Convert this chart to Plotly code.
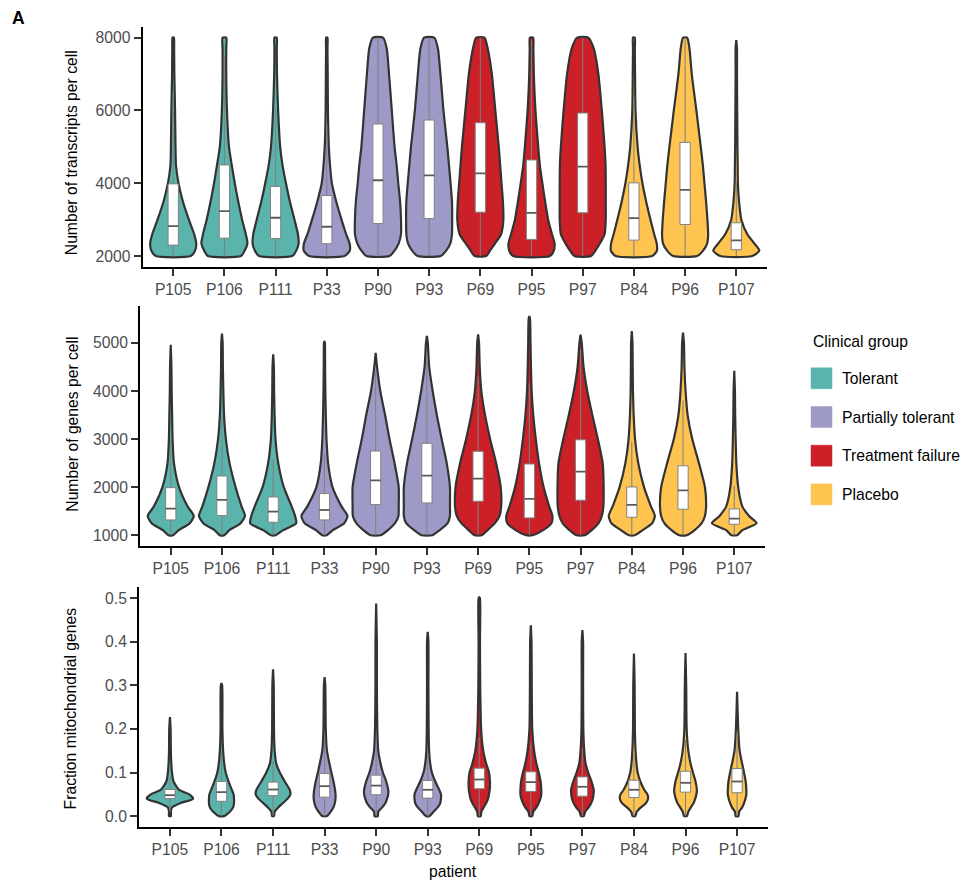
import plotly.graph_objects as go

# ---------------------------------------------------------------- data ----
PATIENTS = ["P105", "P106", "P111", "P33", "P90", "P93",
            "P69", "P95", "P97", "P84", "P96", "P107"]
PATIENT_GROUP = ["Tolerant", "Tolerant", "Tolerant",
                 "Partially tolerant", "Partially tolerant", "Partially tolerant",
                 "Treatment failure", "Treatment failure", "Treatment failure",
                 "Placebo", "Placebo", "Placebo"]
GROUPS = ["Tolerant", "Partially tolerant", "Treatment failure", "Placebo"]
GROUP_COLORS = ["#5AB4AC", "#9E9AC8", "#CB2027", "#FEC44F"]

# Panel 1: transcripts per cell
# violin density profile: relative half-width at each level (1 = widest)
TX_LEVELS = [2000, 2150, 2350, 2600, 3000, 3500, 4000, 4500, 5000, 6000, 7000, 7700, 8000]
TX_WIDTH = [
    [0.76, 0.95, 1.00, 0.91, 0.68, 0.42, 0.23, 0.12, 0.10, 0.08, 0.05, 0.04, 0.03],  # P105
    [0.72, 0.88, 1.00, 0.93, 0.77, 0.60, 0.45, 0.32, 0.20, 0.11, 0.08, 0.08, 0.08],  # P106
    [0.72, 0.90, 1.00, 0.97, 0.82, 0.62, 0.45, 0.30, 0.20, 0.11, 0.06, 0.05, 0.05],  # P111
    [0.77, 1.00, 0.99, 0.84, 0.64, 0.41, 0.22, 0.14, 0.09, 0.05, 0.04, 0.03, 0.03],  # P33
    [0.50, 0.72, 0.90, 1.00, 1.00, 0.96, 0.88, 0.81, 0.72, 0.60, 0.48, 0.38, 0.22],  # P90
    [0.50, 0.74, 0.92, 0.99, 1.00, 0.99, 0.93, 0.86, 0.79, 0.62, 0.49, 0.38, 0.22],  # P93
    [0.25, 0.42, 0.64, 0.90, 1.00, 0.98, 0.92, 0.86, 0.80, 0.65, 0.50, 0.32, 0.18],  # P69
    [0.80, 0.97, 1.00, 0.89, 0.72, 0.59, 0.47, 0.36, 0.29, 0.17, 0.10, 0.08, 0.07],  # P95
    [0.36, 0.55, 0.75, 0.95, 1.00, 1.00, 1.00, 0.99, 0.95, 0.83, 0.68, 0.48, 0.24],  # P97
    [0.80, 1.00, 0.99, 0.88, 0.72, 0.53, 0.37, 0.25, 0.16, 0.07, 0.05, 0.04, 0.04],  # P84
    [0.52, 0.78, 0.96, 1.00, 0.97, 0.91, 0.84, 0.77, 0.68, 0.49, 0.29, 0.19, 0.09],  # P96
    [0.69, 1.00, 0.78, 0.48, 0.22, 0.12, 0.07, 0.06, 0.05, 0.04, 0.03, 0.03, 0.00],  # P107
]
TX_MIN = [2000] * 12
TX_MAX = [8000, 8000, 8000, 8000, 8000, 8000, 8000, 8000, 8000, 8000, 8000, 7930]
TX_Q1 = [2301, 2493, 2484, 2339, 2896, 3033, 3205, 2458, 3189, 2438, 2868, 2175]
TX_MED = [2822, 3233, 3052, 2805, 4082, 4219, 4274, 3189, 4458, 3041, 3818, 2430]
TX_Q3 = [3983, 4504, 3910, 3663, 5627, 5737, 5663, 4641, 5929, 4011, 5123, 2915]

# Panel 2: genes per cell
GN_LEVELS = [1000, 1100, 1250, 1400, 1600, 2000, 2500, 3000, 3500, 4000, 4500, 5000, 5500]
GN_WIDTH = [
    [0.10, 0.33, 0.83, 1.00, 0.73, 0.36, 0.14, 0.08, 0.06, 0.04, 0.03, 0.00, 0.00],  # P105
    [0.10, 0.31, 0.81, 1.00, 0.85, 0.59, 0.33, 0.17, 0.09, 0.06, 0.04, 0.03, 0.00],  # P106
    [0.10, 0.41, 1.00, 0.95, 0.80, 0.46, 0.22, 0.10, 0.06, 0.04, 0.03, 0.00, 0.00],  # P111
    [0.10, 0.35, 0.86, 1.00, 0.74, 0.35, 0.16, 0.09, 0.06, 0.04, 0.03, 0.02, 0.00],  # P33
    [0.22, 0.52, 0.84, 0.99, 1.00, 1.00, 0.82, 0.60, 0.41, 0.20, 0.06, 0.00, 0.00],  # P90
    [0.24, 0.54, 0.90, 1.00, 1.00, 1.00, 0.86, 0.64, 0.43, 0.25, 0.10, 0.04, 0.00],  # P93
    [0.16, 0.40, 0.73, 0.93, 1.00, 0.98, 0.78, 0.52, 0.30, 0.14, 0.07, 0.04, 0.00],  # P69
    [0.14, 0.58, 0.96, 1.00, 0.86, 0.62, 0.42, 0.28, 0.17, 0.10, 0.07, 0.05, 0.03],  # P95
    [0.18, 0.47, 0.78, 0.92, 0.99, 1.00, 0.96, 0.75, 0.51, 0.29, 0.13, 0.05, 0.00],  # P97
    [0.13, 0.46, 0.89, 1.00, 0.83, 0.53, 0.28, 0.14, 0.08, 0.05, 0.04, 0.03, 0.00],  # P84
    [0.16, 0.49, 0.81, 0.95, 1.00, 0.95, 0.69, 0.40, 0.20, 0.11, 0.06, 0.04, 0.00],  # P96
    [0.12, 0.34, 0.97, 0.64, 0.35, 0.17, 0.09, 0.06, 0.04, 0.03, 0.00, 0.00, 0.00],  # P107
]
GN_MIN = [1000] * 12
GN_MAX = [4960, 5195, 4765, 5042, 4793, 5145, 5180, 5561, 5174, 5249, 5216, 4420]
GN_Q1 = [1318, 1408, 1269, 1318, 1636, 1671, 1706, 1360, 1727, 1373, 1540, 1228]
GN_MED = [1553, 1733, 1491, 1525, 2142, 2239, 2176, 1754, 2321, 1629, 1934, 1345]
GN_Q3 = [1989, 2232, 1795, 1865, 2751, 2911, 2744, 2481, 2985, 2003, 2445, 1546]

# Panel 3: fraction of mitochondrial genes
MT_LEVELS = [0.0, 0.01, 0.02, 0.03, 0.04, 0.05, 0.06, 0.08, 0.10, 0.12, 0.15, 0.20, 0.30, 0.40, 0.50]
MT_WIDTH = [
    [0.04, 0.04, 0.09, 0.47, 1.00, 0.83, 0.40, 0.15, 0.09, 0.06, 0.04, 0.03, 0.00, 0.00, 0.00],  # P105
    [0.11, 0.36, 0.50, 0.54, 0.54, 0.52, 0.45, 0.30, 0.18, 0.12, 0.07, 0.04, 0.03, 0.00, 0.00],  # P106
    [0.04, 0.07, 0.22, 0.43, 0.63, 0.75, 0.72, 0.50, 0.29, 0.14, 0.07, 0.04, 0.03, 0.00, 0.00],  # P111
    [0.10, 0.26, 0.38, 0.44, 0.47, 0.47, 0.45, 0.38, 0.29, 0.21, 0.10, 0.05, 0.03, 0.00, 0.00],  # P33
    [0.07, 0.09, 0.26, 0.40, 0.47, 0.52, 0.52, 0.43, 0.29, 0.19, 0.09, 0.05, 0.03, 0.03, 0.00],  # P90
    [0.08, 0.25, 0.43, 0.54, 0.57, 0.57, 0.50, 0.32, 0.18, 0.11, 0.06, 0.04, 0.03, 0.03, 0.00],  # P93
    [0.06, 0.09, 0.19, 0.30, 0.38, 0.42, 0.45, 0.46, 0.42, 0.30, 0.17, 0.08, 0.04, 0.03, 0.03],  # P69
    [0.06, 0.10, 0.24, 0.34, 0.41, 0.45, 0.45, 0.42, 0.34, 0.24, 0.14, 0.06, 0.04, 0.03, 0.00],  # P95
    [0.06, 0.12, 0.27, 0.38, 0.45, 0.48, 0.49, 0.39, 0.25, 0.14, 0.08, 0.04, 0.03, 0.03, 0.00],  # P97
    [0.06, 0.12, 0.30, 0.52, 0.61, 0.58, 0.45, 0.27, 0.16, 0.11, 0.07, 0.04, 0.03, 0.00, 0.00],  # P84
    [0.06, 0.12, 0.23, 0.35, 0.42, 0.47, 0.49, 0.43, 0.32, 0.22, 0.12, 0.05, 0.03, 0.00, 0.00],  # P96
    [0.06, 0.09, 0.22, 0.30, 0.36, 0.40, 0.40, 0.37, 0.30, 0.22, 0.11, 0.05, 0.00, 0.00, 0.00],  # P107
]
MT_MIN = [0.0] * 12
MT_MAX = [0.227, 0.305, 0.337, 0.319, 0.488, 0.423, 0.502, 0.438, 0.427, 0.373, 0.374, 0.285]
MT_Q1 = [0.0405, 0.034, 0.047, 0.0435, 0.049, 0.0413, 0.0627, 0.0565, 0.0458, 0.0428, 0.055, 0.0535]
MT_MED = [0.048, 0.055, 0.061, 0.0687, 0.070, 0.0604, 0.084, 0.078, 0.0673, 0.0604, 0.0764, 0.0794]
MT_Q3 = [0.061, 0.0795, 0.078, 0.0977, 0.094, 0.0817, 0.110, 0.1016, 0.090, 0.0824, 0.103, 0.109]

Y_TITLES = ["Number of transcripts per cell", "Number of genes per cell",
            "Fraction mitochondrial genes"]
Y_TICKS = [[2000, 4000, 6000, 8000],
           [1000, 2000, 3000, 4000, 5000],
           [0.0, 0.1, 0.2, 0.3, 0.4, 0.5]]
Y_TICKTEXT = [["2000", "4000", "6000", "8000"],
              ["1000", "2000", "3000", "4000", "5000"],
              ["0.0", "0.1", "0.2", "0.3", "0.4", "0.5"]]
X_TITLE = "patient"
LEGEND_TITLE = "Clinical group"
PANEL_LABEL = "A"

# -------------------------------------------------------------- styling ----
W, H = 963, 884
FONT = "Liberation Sans, Arial, sans-serif"
TICK_COLOR = "#4D4D4D"
OUTLINE = "#333333"
HALF_MAX = 0.45      # widest violin half-width in category units
BOX_HALF = 0.10

# panel frames in pixels: (left, right, top, bottom)
FRAMES = [(142.5, 767, 26.7, 267), (140, 765, 305.7, 546), (139, 768, 587.3, 827)]
Y_RANGES = [[1700, 8300], [775, 5775], [-0.025, 0.525]]
TITLE_POS = [(71.7, 152.5), (71.7, 424), (70.7, 708.7)]


def px_x(v):
    return v / W


def px_y(v):
    return 1 - v / H


panels = [
    (TX_LEVELS, TX_WIDTH, TX_MIN, TX_MAX, TX_Q1, TX_MED, TX_Q3),
    (GN_LEVELS, GN_WIDTH, GN_MIN, GN_MAX, GN_Q1, GN_MED, GN_Q3),
    (MT_LEVELS, MT_WIDTH, MT_MIN, MT_MAX, MT_Q1, MT_MED, MT_Q3),
]

fig = go.Figure()

for p, (levels, widths, mins, maxs, q1s, meds, q3s) in enumerate(panels):
    xa = "x" if p == 0 else f"x{p + 1}"
    ya = "y" if p == 0 else f"y{p + 1}"

    # violins
    for i, name in enumerate(PATIENTS):
        color = GROUP_COLORS[GROUPS.index(PATIENT_GROUP[i])]
        pts = [(lv, w) for lv, w in zip(levels, widths[i]) if lv <= maxs[i]]
        if pts[-1][0] < maxs[i]:
            pts.append((maxs[i], 0.0))
        ys = [lv for lv, _ in pts]
        half = [w * HALF_MAX for _, w in pts]
        xs = [i - h for h in half] + [i + h for h in reversed(half)] + [i - half[0]]
        yy = ys + ys[::-1] + [ys[0]]
        fig.add_trace(go.Scatter(
            x=xs, y=yy, mode="lines", fill="toself", fillcolor=color,
            line=dict(color=OUTLINE, width=2.2, shape="spline", smoothing=0.6),
            xaxis=xa, yaxis=ya, hoverinfo="skip", showlegend=False, name=name))

    # whiskers (1.5 IQR rule, clipped to the data range)
    wx, wy = [], []
    for i in range(len(PATIENTS)):
        iqr = q3s[i] - q1s[i]
        lo = max(mins[i], q1s[i] - 1.5 * iqr)
        hi = min(maxs[i], q3s[i] + 1.5 * iqr)
        wx += [i, i, None, i, i, None]
        wy += [lo, q1s[i], None, q3s[i], hi, None]
    fig.add_trace(go.Scatter(x=wx, y=wy, mode="lines",
                             line=dict(color="#7F7F7F", width=1),
                             xaxis=xa, yaxis=ya, hoverinfo="skip", showlegend=False))

    # boxes
    bx, by = [], []
    for i in range(len(PATIENTS)):
        bx += [i - BOX_HALF, i + BOX_HALF, i + BOX_HALF, i - BOX_HALF, i - BOX_HALF, None]
        by += [q1s[i], q1s[i], q3s[i], q3s[i], q1s[i], None]
    fig.add_trace(go.Scatter(x=bx, y=by, mode="lines", fill="toself", fillcolor="white",
                             line=dict(color="#808080", width=1),
                             xaxis=xa, yaxis=ya, hoverinfo="skip", showlegend=False))
    mx, my = [], []
    for i in range(len(PATIENTS)):
        mx += [i - BOX_HALF, i + BOX_HALF, None]
        my += [meds[i], meds[i], None]
    fig.add_trace(go.Scatter(x=mx, y=my, mode="lines",
                             line=dict(color="#5A5A5A", width=1.8),
                             xaxis=xa, yaxis=ya, hoverinfo="skip", showlegend=False))

# --------------------------------------------------------------- axes ----
layout = dict(
    width=W, height=H, margin=dict(l=0, r=0, t=0, b=0),
    paper_bgcolor="white", plot_bgcolor="white",
    font=dict(family=FONT, size=15.7, color="black"),
    showlegend=False,
)
for p in range(3):
    left, right, top, bottom = FRAMES[p]
    xk = "xaxis" if p == 0 else f"xaxis{p + 1}"
    yk = "yaxis" if p == 0 else f"yaxis{p + 1}"
    ya = "y" if p == 0 else f"y{p + 1}"
    xa = "x" if p == 0 else f"x{p + 1}"
    layout[xk] = dict(
        domain=[px_x(left), px_x(right)], anchor=ya, range=[-0.6, 11.6],
        tickmode="array", tickvals=list(range(len(PATIENTS))), ticktext=PATIENTS,
        showline=True, linecolor="black", linewidth=2, mirror=False,
        ticks="outside", ticklen=7, tickwidth=1.5, tickcolor="#333333",
        tickfont=dict(size=15.7, color=TICK_COLOR, family=FONT),
        showgrid=False, zeroline=False, automargin=False, fixedrange=True,
    )
    layout[yk] = dict(
        domain=[px_y(bottom), px_y(top)], anchor=xa, range=Y_RANGES[p],
        tickmode="array", tickvals=Y_TICKS[p], ticktext=Y_TICKTEXT[p],
        showline=True, linecolor="black", linewidth=2,
        ticks="outside", ticklen=7, tickwidth=1.5, tickcolor="#333333",
        tickfont=dict(size=15.7, color=TICK_COLOR, family=FONT),
        showgrid=False, zeroline=False, automargin=False, fixedrange=True,
    )

annotations = []
for p in range(3):
    tx, ty = TITLE_POS[p]
    annotations.append(dict(
        text=Y_TITLES[p], x=px_x(tx), y=px_y(ty), xref="paper", yref="paper",
        xanchor="center", yanchor="middle", textangle=-90, showarrow=False,
        font=dict(size=15.7, color="black", family=FONT)))
annotations.append(dict(
    text=X_TITLE, x=px_x(453), y=px_y(871), xref="paper", yref="paper",
    xanchor="center", yanchor="middle", showarrow=False,
    font=dict(size=15.7, color="black", family=FONT)))
annotations.append(dict(
    text=f"<b>{PANEL_LABEL}</b>", x=px_x(18.3), y=px_y(17.8), xref="paper", yref="paper",
    xanchor="center", yanchor="middle", showarrow=False,
    font=dict(size=17.5, color="black", family=FONT)))

# legend drawn as keys + labels
shapes = []
annotations.append(dict(
    text=LEGEND_TITLE, x=px_x(811), y=px_y(341.7), xref="paper", yref="paper",
    xanchor="left", yanchor="middle", showarrow=False,
    font=dict(size=15.7, color="black", family=FONT)))
LEGEND_ROW_Y = [378.3, 417.0, 455.7, 494.4]
for g, (label, color) in enumerate(zip(GROUPS, GROUP_COLORS)):
    cy = LEGEND_ROW_Y[g]
    shapes.append(dict(
        type="rect", xref="paper", yref="paper",
        x0=px_x(811), x1=px_x(832), y0=px_y(cy + 10.5), y1=px_y(cy - 10.5),
        fillcolor=color, line=dict(color=color, width=0.5), layer="above"))
    annotations.append(dict(
        text=label, x=px_x(840), y=px_y(cy), xref="paper", yref="paper",
        xanchor="left", yanchor="middle", showarrow=False,
        font=dict(size=15.7, color="black", family=FONT)))

layout["annotations"] = annotations
layout["shapes"] = shapes
fig.update_layout(**layout)

fig.write_html("out.html")
